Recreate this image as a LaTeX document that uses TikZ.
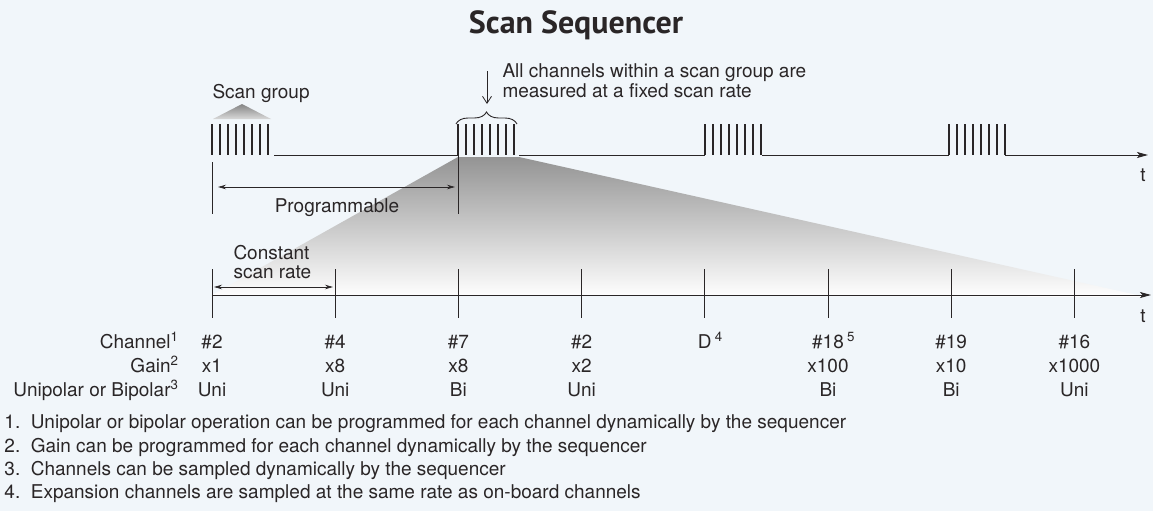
\documentclass[tikz,border=0pt]{standalone}
\usepackage{fontspec}
\setmainfont{TeX Gyre Heros}
\newfontfamily\titlefont{PT Sans}
\usetikzlibrary{arrows.meta}
\usetikzlibrary{decorations.pathreplacing}
\usetikzlibrary{positioning}
\definecolor{bgblue}{HTML}{F1F6FA}
\definecolor{ink}{HTML}{2A2627}
\newcommand{\fnum}[1]{#1.\hspace{10.5pt}}

\begin{document}
\begin{tikzpicture}[x=1pt,y=-1pt,line width=1pt,color=ink,
  txt/.style={font=\fontsize{19}{20}\selectfont,inner sep=0pt},
  axis/.style={-{Stealth[length=11pt,width=6pt,inset=2.5pt]}},
  span/.style={{Stealth[length=8pt,width=4.5pt]}-{Stealth[length=8pt,width=4.5pt]},line width=0.7pt},
  bar/.style={line width=1.1pt}]
  \fill[bgblue] (0,0) rectangle (1153,511);
  \useasboundingbox (0,0) rectangle (1153,511);

  % title
  \node[font=\titlefont\bfseries\fontsize{32}{34}\selectfont,anchor=base] (title) at (576,34) {Scan Sequencer};

  % fan from the second scan group down to the channel axis
  \shade[top color=black!42,bottom color=white] (458,157) -- (519,157) -- (1146,297) -- (212,295) -- cycle;

  % scan group marker
  \shade[top color=black!48,bottom color=black!15] (213,119) -- (242,104) -- (271,119) -- cycle;
  \node[txt,anchor=base west] (grp) at (212,98) {Scan group};

  % top time axis with four scan groups
  \foreach \g in {212,458,705,949}
    \foreach \i in {0,...,7}
      \draw[bar] ({\g+8*\i},124) -- ({\g+8*\i},155);
  \coordinate (g1) at (274,155);
  \coordinate (g2) at (458,155);
  \coordinate (g2e) at (519,155);
  \coordinate (g3) at (705,155);
  \coordinate (g3e) at (762,155);
  \coordinate (g4) at (949,155);
  \coordinate (g4e) at (1005,155);
  \coordinate (tend) at (1148,155);
  \draw (g1) -- (g2);
  \draw (g2e) -- (g3);
  \draw (g3e) -- (g4);
  \draw[axis] (g4e) -- (tend);
  \node[txt,anchor=base] (t1) at (1143,181) {t};

  % brace and note
  \draw[line width=0.9pt,decorate,decoration={brace,amplitude=12pt}] (456,124) -- (517,124);
  \coordinate (notetop) at (487,71);
  \coordinate (notetip) at (487,104);
  \draw[-{Straight Barb[length=7pt,width=9pt]},line width=0.8pt] (notetop) -- (notetip);
  \node[txt,anchor=north west,align=left] (note) at (502,63) {All channels within a scan group are\\measured at a fixed scan rate};

  % programmable interval
  \coordinate (pl) at (212,162);
  \coordinate (pr) at (458,155);
  \draw (pl) -- ++(0,52);
  \draw (pr) -- ++(0,59);
  \draw[span] (218,187) -- (455,187);
  \node[txt,anchor=base] (prog) at (337,212) {Programmable};

  % channel time axis
  \coordinate (c0) at (212,295);
  \coordinate (cend) at (1151,295);
  \draw[axis] (c0) -- (cend);
  \foreach \k in {0,...,7}
    \draw ({212+123.2*\k},269) -- ({212+123.2*\k},318);
  \node[txt,anchor=base] (t2) at (1143,322) {t};
  \draw[span] (214,287) -- (333,287);
  \node[txt,anchor=west,align=left,font=\fontsize{19}{19}\selectfont] (const) at (233,262) {Constant\\scan rate};

  % table
  \node[txt,anchor=base east] (chlbl) at (179,348) {Channel\textsuperscript{1}};
  \node[txt,anchor=base east] (gainlbl) at (179,372) {Gain\textsuperscript{2}};
  \node[txt,anchor=base east] (pollbl) at (179,396) {Unipolar or Bipolar\textsuperscript{3}};
  \foreach \c/\g/\p [count=\k from 0] in {\#2/x1/Uni,\#4/x8/Uni,\#7/x8/Bi,\#2/x2/Uni,D\rlap{\,\textsuperscript{4}}/{}/{},\#18\rlap{\,\textsuperscript{5}}/x100/Bi,\#19/x10/Bi,\#16/x1000/Uni}{
    \node[txt,anchor=base] (ch\k) at ({212+123.2*\k},348) {\c};
    \node[txt,anchor=base] (gn\k) at ({212+123.2*\k},372) {\g};
    \node[txt,anchor=base] (pol\k) at ({212+123.2*\k},396) {\p};
  }

  % footnotes
  \node[txt,anchor=base west] (fn1) at (4,428) {\fnum{1}Unipolar or bipolar operation can be programmed for each channel dynamically by the sequencer};
  \node[txt,anchor=base west] (fn2) at (4,452) {\fnum{2}Gain can be programmed for each channel dynamically by the sequencer};
  \node[txt,anchor=base west] (fn3) at (4,475) {\fnum{3}Channels can be sampled dynamically by the sequencer};
  \node[txt,anchor=base west] (fn4) at (4,498) {\fnum{4}Expansion channels are sampled at the same rate as on-board channels};
\end{tikzpicture}
\end{document}
